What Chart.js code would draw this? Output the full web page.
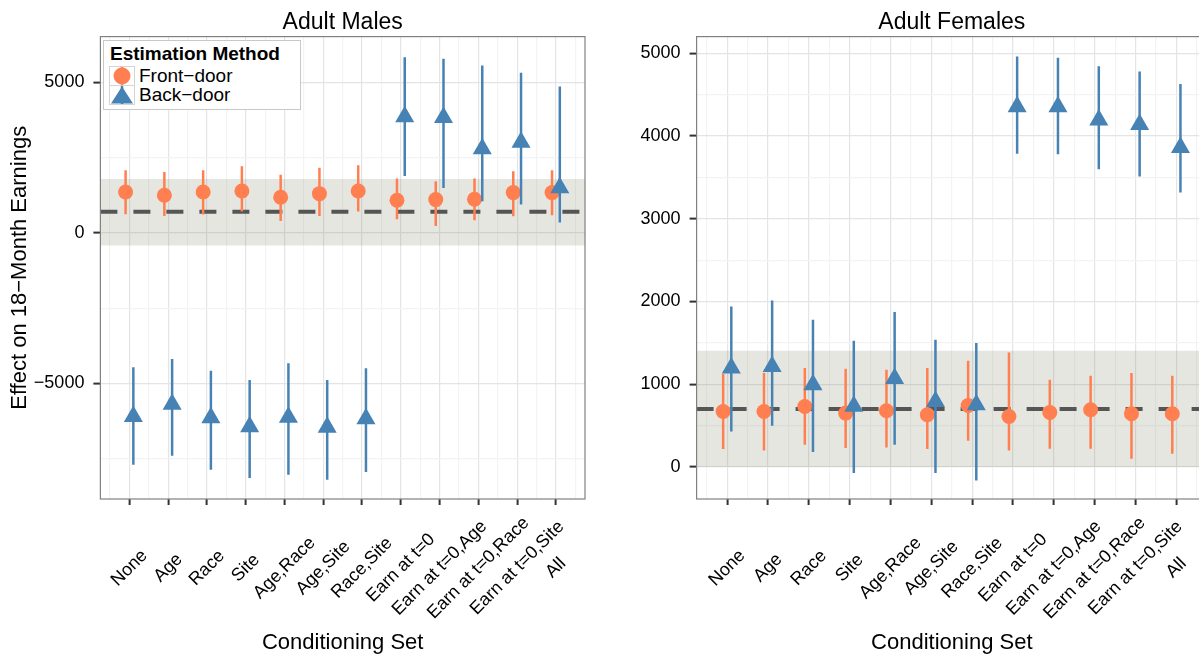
<!DOCTYPE html>
<html lang="en">
<head>
<meta charset="UTF-8">
<title>Front-door vs Back-door estimates</title>
<script src="https://cdn.jsdelivr.net/npm/chart.js"></script>
<style>
  html, body { margin: 0; padding: 0; background: #fff; overflow: hidden; }
  #wrap { position: relative; width: 1199px; height: 654px; overflow: hidden;
          font-family: "Liberation Sans", Arial, sans-serif; color: #000; }
  canvas { position: absolute; top: 0; }
  #males { left: 0; }
  #females { left: 600px; }
  #legend { position: absolute; left: 103px; top: 40px; width: 196px; height: 68px;
            background: #fff; border: 1px solid #c8c8c8; }
  #legend .ttl { position: absolute; left: 6px; top: 2px; font-weight: bold; font-size: 19px; line-height: 22px; }
  #legend .key { position: absolute; left: 5px; width: 24px; height: 18px; border: 1px solid #d4d4d4; background: #fff; }
  #legend .lab { position: absolute; left: 35px; font-size: 19px; line-height: 19px; }
</style>
</head>
<body>
<div id="wrap">
  <canvas id="males" width="600" height="654"></canvas>
  <canvas id="females" width="620" height="654"></canvas>
  <div id="legend">
    <div class="ttl">Estimation Method</div>
    <div class="key" style="top:25px">
      <svg width="24" height="18"><line x1="12" y1="0" x2="12" y2="18" stroke="#FF7F50" stroke-width="2.5"/><circle cx="12" cy="9" r="8.5" fill="#FF7F50"/></svg>
    </div>
    <div class="lab" style="top:25px">Front−door</div>
    <div class="key" style="top:44px">
      <svg width="24" height="18"><line x1="12" y1="0" x2="12" y2="18" stroke="#4682B4" stroke-width="2.5"/><polygon points="12,0.5 23,17.5 1,17.5" fill="#4682B4"/></svg>
    </div>
    <div class="lab" style="top:44px">Back−door</div>
  </div>
</div>

<script>
  // conditioning sets on the x axis
  const conditioningSets = ['None', 'Age', 'Race', 'Site', 'Age,Race', 'Age,Site', 'Race,Site',
    'Earn at t=0', 'Earn at t=0,Age', 'Earn at t=0,Race', 'Earn at t=0,Site', 'All'];

  // Adult Males
  const maleFront   = [1360, 1250, 1360, 1394, 1185, 1305, 1394, 1085, 1108, 1118, 1340, 1340];
  const maleFrontLo = [620, 564, 610, 710, 398, 564, 710, 454, 232, 421, 554, 587];
  const maleFrontHi = [2080, 2024, 2080, 2213, 1937, 2169, 2246, 1805, 1715, 1805, 2047, 2080];
  const maleBack    = [-6105, -5697, -6141, -6447, -6125, -6457, -6181, 3859, 3835, 2797, 3016, 1503];
  const maleBackLo  = [-7707, -7409, -7873, -8150, -8039, -8205, -7950, 1891, 1493, 1052, 942, 345];
  const maleBackHi  = [-4466, -4190, -4578, -4887, -4333, -4887, -4499, 5840, 5786, 5564, 5322, 4867];
  const maleBenchmark = 700;
  const maleBand = [-420, 1790];
  const maleYRange = [-8845, 6526];
  const maleYTicks = [-7500, -5000, -2500, 0, 2500, 5000];

  // Adult Females
  const femFront   = [671, 671, 732, 652, 680, 632, 744, 611, 659, 692, 644, 644];
  const femFrontLo = [217, 201, 269, 229, 237, 217, 318, 201, 221, 221, 100, 161];
  const femFrontHi = [1123, 1135, 1196, 1187, 1175, 1196, 1284, 1384, 1054, 1103, 1135, 1103];
  const femBack    = [1196, 1216, 995, 733, 1069, 791, 754, 4354, 4354, 4193, 4138, 3861];
  const femBackLo  = [430, 499, 181, -72, 269, -72, -162, 3784, 3780, 3599, 3510, 3316];
  const femBackHi  = [1940, 2012, 1779, 1525, 1872, 1537, 1498, 4959, 4943, 4843, 4778, 4626];
  const femBenchmark = 700;
  const femBand = [0, 1405];
  const femYRange = [-386, 5200];
  const femYTicks = [0, 500, 1000, 1500, 2000, 2500, 3000, 3500, 4000, 4500, 5000];

  const FRONT = '#FF7F50';
  const BACK = '#4682B4';
  const FONT = '"Liberation Sans", Arial, sans-serif';
  const dodge = 0.1;
  const xMin = -0.75, xMax = conditioningSets.length - 0.25;
  const xTicks = [];
  for (let v = -0.5; v <= conditioningSets.length - 0.5; v += 0.5) xTicks.push(v);

  const fmt = v => (v < 0 ? '\u2212' + Math.abs(v) : String(v));

  // vertical error bars as broken line segments
  function bars(lo, hi, shift) {
    const out = [];
    lo.forEach((l, i) => {
      out.push({x: i + shift, y: l}, {x: i + shift, y: hi[i]}, {x: i + shift, y: null});
    });
    return out;
  }
  const pts = (vals, shift) => vals.map((v, i) => ({x: i + shift, y: v}));

  const frame = {
    id: 'frame',
    afterDraw(chart) {
      const a = chart.chartArea, c = chart.ctx;
      c.save();
      c.strokeStyle = '#808080';
      c.lineWidth = 1.2;
      c.strokeRect(a.left, a.top, a.right - a.left, a.bottom - a.top);
      c.restore();
    }
  };

  // 45 degree labels centred on their tick, like the ggplot original
  const xLabels = {
    id: 'xLabels',
    afterDraw(chart) {
      const s = chart.scales.x, c = chart.ctx;
      c.save();
      c.font = '18px ' + FONT;
      c.fillStyle = '#000';
      c.textAlign = 'center';
      c.textBaseline = 'middle';
      conditioningSets.forEach((lab, i) => {
        c.save();
        c.translate(s.getPixelForValue(i), s.top + 69);
        c.rotate(-Math.PI / 4);
        c.fillText(lab, 0, 0);
        c.restore();
      });
      c.restore();
    }
  };

  function makePanel(id, p) {
    const majorY = v => v % p.major === 0;
    return new Chart(document.getElementById(id), {
      type: 'line',
      data: {
        datasets: [
          { data: [{x: xMin, y: p.band[1]}, {x: xMax, y: p.band[1]}], fill: {value: p.band[0]},
            backgroundColor: 'rgba(128,128,105,0.2)', borderWidth: 0, pointRadius: 0, order: 6 },
          { data: [{x: xMin, y: p.bench}, {x: xMax, y: p.bench}], borderColor: '#555555',
            borderWidth: 4, borderDash: [17, 16], pointRadius: 0, order: 5 },
          { data: bars(p.frontLo, p.frontHi, -dodge), borderColor: FRONT, borderWidth: 2.5,
            pointRadius: 0, spanGaps: false, order: 4 },
          { data: pts(p.front, -dodge), showLine: false, pointStyle: 'circle', pointRadius: 7.5,
            pointBackgroundColor: FRONT, pointBorderColor: FRONT, pointBorderWidth: 0, order: 3 },
          { data: bars(p.backLo, p.backHi, dodge), borderColor: BACK, borderWidth: 2.5,
            pointRadius: 0, spanGaps: false, order: 2 },
          { data: pts(p.back, dodge), showLine: false, pointStyle: 'triangle', pointRadius: 11,
            pointBackgroundColor: BACK, pointBorderColor: BACK, pointBorderWidth: 0, order: 1 }
        ]
      },
      options: {
        responsive: false,
        animation: false,
        events: [],
        layout: { padding: { left: 0, right: p.padRight, top: 0, bottom: 0 } },
        plugins: {
          legend: { display: false },
          tooltip: { enabled: false },
          title: { display: true, fullSize: false, text: p.title, color: '#000',
                   font: { family: FONT, size: 23, weight: 'normal' }, padding: { top: 8.5, bottom: 0.5 } }
        },
        scales: {
          x: {
            type: 'linear', min: xMin, max: xMax,
            afterBuildTicks: s => { s.ticks = xTicks.map(v => ({value: v})); },
            afterFit: s => { s.height = 155; },
            border: { display: false },
            grid: {
              color: c => Number.isInteger(c.tick.value) ? '#e4e4e4' : '#f3f3f3',
              lineWidth: 1.2,
              tickLength: 6,
              tickWidth: 2,
              tickColor: c => Number.isInteger(c.tick.value) ? '#333333' : 'rgba(0,0,0,0)'
            },
            ticks: { display: false },
            title: { display: true, text: 'Conditioning Set', color: '#000',
                     font: { family: FONT, size: 22, lineHeight: 1 }, padding: { top: 0, bottom: 0 } }
          },
          y: {
            min: p.yRange[0], max: p.yRange[1],
            afterBuildTicks: s => { s.ticks = p.yTicks.map(v => ({value: v})); },
            afterFit: s => { s.width = p.axisWidth; },
            border: { display: false },
            grid: {
              color: c => majorY(c.tick.value) ? '#e4e4e4' : '#f3f3f3',
              lineWidth: 1.2,
              tickLength: 7,
              tickWidth: 2,
              tickColor: c => majorY(c.tick.value) ? '#333333' : 'rgba(0,0,0,0)'
            },
            ticks: {
              padding: 9, color: '#000', font: { family: FONT, size: 18 },
              callback: v => majorY(v) ? fmt(v) : ''
            },
            title: { display: p.yTitle !== '', text: p.yTitle, color: '#000',
                     font: { family: FONT, size: 22, lineHeight: 1 }, padding: { top: 9, bottom: 0 } }
          }
        }
      },
      plugins: [frame, xLabels]
    });
  }

  makePanel('males', {
    title: 'Adult Males', yTitle: 'Effect on 18\u2212Month Earnings',
    front: maleFront, frontLo: maleFrontLo, frontHi: maleFrontHi,
    back: maleBack, backLo: maleBackLo, backHi: maleBackHi,
    bench: maleBenchmark, band: maleBand, yRange: maleYRange, yTicks: maleYTicks,
    major: 5000, axisWidth: 100.4, padRight: 15
  });

  makePanel('females', {
    title: 'Adult Females', yTitle: '',
    front: femFront, frontLo: femFrontLo, frontHi: femFrontHi,
    back: femBack, backLo: femBackLo, backHi: femBackHi,
    bench: femBenchmark, band: femBand, yRange: femYRange, yTicks: femYTicks,
    major: 1000, axisWidth: 96.6, padRight: 13
  });
</script>
</body>
</html>
